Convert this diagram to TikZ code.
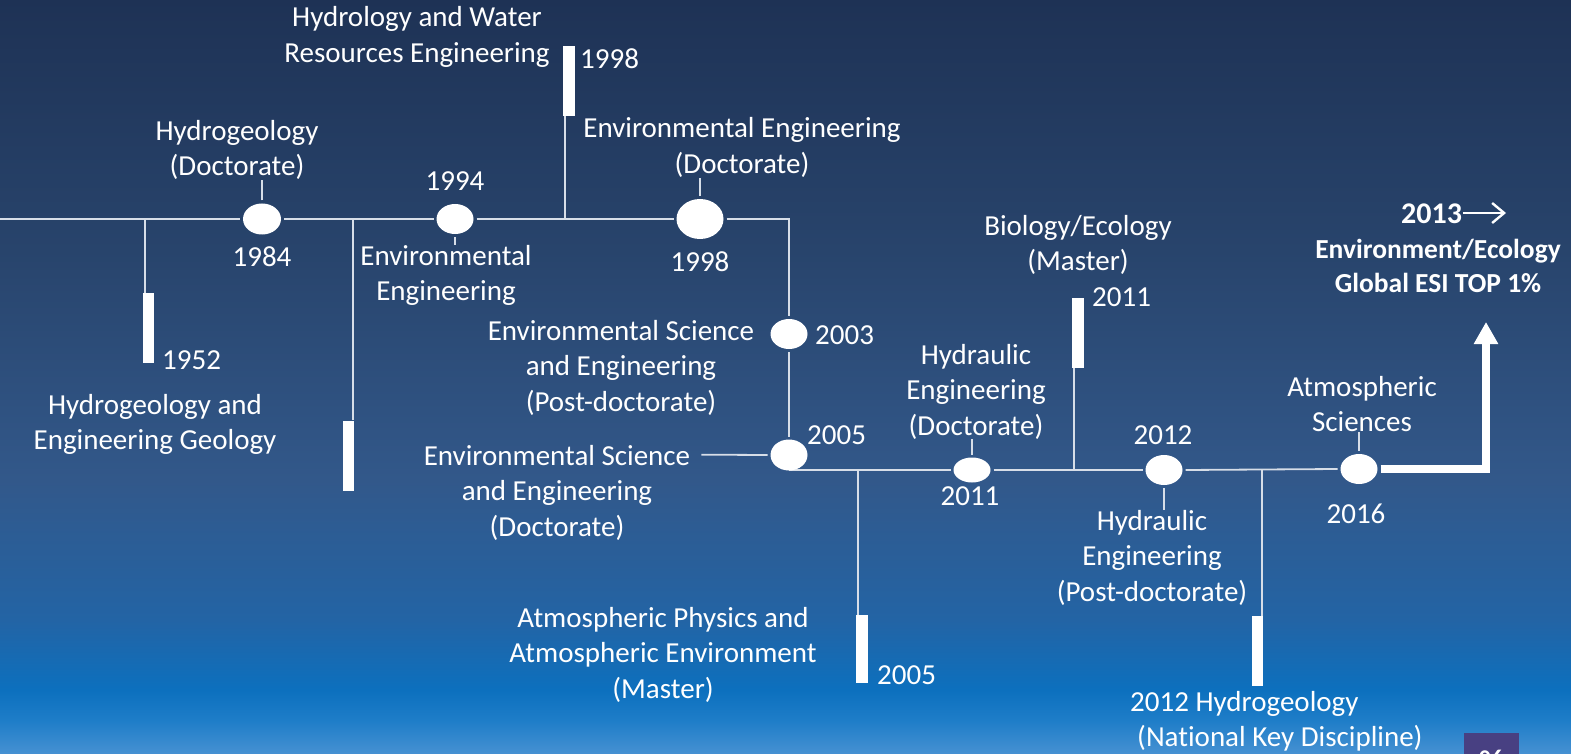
\documentclass[tikz,border=0pt]{standalone}
\usepackage{fontspec}
\setmainfont[Ligatures=NoCommon]{Carlito}
\usetikzlibrary{shapes.geometric,arrows.meta,backgrounds}
\definecolor{bgA}{RGB}{70,145,210}
\definecolor{bgB}{RGB}{30,125,200}
\definecolor{bgC}{RGB}{12,112,190}
\definecolor{bgD}{RGB}{35,100,165}
\definecolor{bgE}{RGB}{50,88,138}
\definecolor{bgF}{RGB}{40,68,108}
\definecolor{bgG}{RGB}{30,50,85}
\definecolor{linec}{RGB}{215,222,232}
\definecolor{logoc}{RGB}{72,64,130}
\pgfdeclareverticalshading{bgshade}{100bp}{color(0bp)=(bgA); color(25bp)=(bgA); color(27.25bp)=(bgB); color(29.24bp)=(bgC); color(33.9bp)=(bgD); color(43.2bp)=(bgE); color(58.4bp)=(bgF); color(75bp)=(bgG); color(100bp)=(bgG)}
\tikzset{
  lbl/.style={text=white, inner sep=0pt, align=center, anchor=base, font=\fontsize{29}{35.5}\selectfont},
  lbll/.style={lbl, anchor=base west, align=left},
  blbl/.style={lbl, font=\fontsize{27.5}{34}\selectfont\bfseries},
  dot/.style={ellipse, fill=white, inner sep=0pt, minimum width=37pt, minimum height=30pt, outer sep=3pt},
  bar/.style={rectangle, fill=white, inner sep=0pt, minimum width=11.5pt, minimum height=70pt},
  link/.style={draw=linec, line width=1.8pt},
}
\begin{document}
\begin{tikzpicture}[x=1pt,y=-1pt]
\useasboundingbox (0,0) rectangle (1571,754);
% ellipses
\node[dot, minimum width=38pt, minimum height=31pt] (e1984) at (262,219) {};
\node[dot] (e1994) at (455,219) {};
\node[dot, minimum width=47pt, minimum height=40pt] (e1998) at (700,219) {};
\node[dot] (e2003) at (789,334) {};
\node[dot, minimum height=31pt] (e2005) at (789,455) {};
\node[dot, minimum height=25pt] (e2011) at (972,470) {};
\node[dot] (e2012) at (1164,470) {};
\node[dot] (e2016) at (1359,469) {};
% bars
\node[bar] (b1952) at (148.5,328) {};
\node[bar] (b1994) at (348.5,455.5) {};
\node[bar, minimum width=12pt] (b1998) at (569,81) {};
\node[bar, minimum width=12pt] (b2011) at (1078,333) {};
\node[bar, minimum width=12pt, minimum height=68pt] (b2005) at (862,649) {};
\node[bar] (b2012) at (1257.5,651) {};
% junctions
\coordinate (start) at (0,219);
\coordinate (c1998) at (789,219);
\coordinate (c2005) at (789,470);
\coordinate (j1952) at (145,219);
\coordinate (j1994) at (353,219);
\coordinate (j1998) at (565,219);
\coordinate (j2011) at (1074,470);
\coordinate (j2005) at (858,470);
\coordinate (j2012) at (1262,470);
\coordinate (tip) at (1486,322);
% labels (anchor base = baseline of last line)
\node[lbl] (lHWR) at (417,62.5) {Hydrology and Water\\Resources Engineering};
\node[lbll] (y1998a) at (580,69) {1998};
\node[lbl] (lHyd) at (237,175.5) {Hydrogeology\\(Doctorate)};
\node[lbl] (y1984) at (262,266) {1984};
\node[lbll] (y1952) at (162,369) {1952};
\node[lbl] (lHEG) at (155,449.5) {Hydrogeology and\\Engineering Geology};
\node[lbl] (y1994) at (455,191) {1994};
\node[lbl] (lEE) at (446,300.5) {Environmental\\Engineering};
\node[lbl] (lEED) at (742,173.5) {Environmental Engineering\\(Doctorate)};
\node[lbl] (y1998b) at (700,271) {1998};
\node[lbl] (lESP) at (621,411) {Environmental Science\\and Engineering\\(Post-doctorate)};
\node[lbll] (y2003) at (815,344) {2003};
\node[lbll] (y2005a) at (807,444) {2005};
\node[lbl] (lESD) at (557,536) {Environmental Science\\and Engineering\\(Doctorate)};
\node[lbl] (lBio) at (1078,270.5) {Biology/Ecology\\(Master)};
\node[lbll] (y2011a) at (1092,306) {2011};
\node[lbl] (lHED) at (976,435) {Hydraulic\\Engineering\\(Doctorate)};
\node[lbl] (y2011b) at (970,505) {2011};
\node[lbl] (y2012) at (1163,444) {2012};
\node[lbl] (lHEP) at (1152,601) {Hydraulic\\Engineering\\(Post-doctorate)};
\node[lbl] (lAtm) at (1362,431.5) {Atmospheric\\Sciences};
\node[lbl] (y2016) at (1356,523) {2016};
\node[blbl, anchor=base west, font=\fontsize{30}{34}\selectfont\bfseries] (y2013) at (1401,223) {2013};
\coordinate (a2013s) at (1463,213);
\coordinate (a2013e) at (1506,213);
\node[blbl] (lESI) at (1438,292) {Environment/Ecology\\Global ESI TOP 1\%};
\node[lbl] (lAPE) at (663,698) {Atmospheric Physics and\\Atmospheric Environment\\(Master)};
\node[lbll] (y2005b) at (877,684) {2005};
\node[lbll] (lNKD) at (1130,746.5) {2012 Hydrogeology\\\hspace*{7pt}(National Key Discipline)};
% logo fragment
\begin{scope}
\clip (1464,733) rectangle (1519,754);
\fill[logoc] (1464,733) rectangle (1519,754);
\node[text=white, inner sep=0pt, anchor=base, font=\fontsize{24}{24}\selectfont\bfseries] (logo) at (1491,766) {06};
\end{scope}
\begin{pgfonlayer}{background}
\shade[shading=bgshade] (0,0) rectangle (1571,754);
\draw[link] (start) -- (e1984.west);
\draw[link] (e1984.east) -- (e1994.west);
\draw[link] (e1994.east) -- (e1998.west);
\draw[link] (e1998.east) -- (c1998) -- (e2003.north);
\draw[link] (e2003.south) -- (e2005.north);
\draw[link] (c2005) -- (e2011.west);
\draw[link] (e2011.east) -- (e2012.west);
\draw[link] (e2012.east) -- (e2016.west);
\draw[link] (j1952) -- (j1952 |- b1952.north);
\draw[link] (j1994) -- (j1994 |- b1994.north);
\draw[link] (j1998) -- (j1998 |- b1998.south);
\draw[link] (j2011) -- (j2011 |- b2011.south);
\draw[link] (j2005) -- (j2005 |- b2005.north);
\draw[link] (j2012) -- (j2012 |- b2012.north);
\draw[link] (e1984.north) -- (e1984.north |- lHyd.south);
\draw[link] (e1994.south) -- (e1994.south |- lEE.north);
\draw[link] (e1998.north) -- (e1998.north |- lEED.south);
\draw[link] (e2011.north) -- (e2011.north |- lHED.south);
\draw[link] (e2012.south) -- (e2012.south |- lHEP.north);
\draw[link] (e2016.north) -- (e2016.north |- lAtm.south);
\draw[link] ([xshift=11pt,yshift=-10pt]lESD.north east) -- (e2005.west);
\end{pgfonlayer}
\draw[white, line width=8pt, -{Triangle[width=23pt,length=22pt]}] (e2016.east) -| (tip);
\draw[white, line width=2.4pt, -{Straight Barb[width=20pt,length=12pt]}] (a2013s) -- (a2013e);
\end{tikzpicture}
\end{document}
